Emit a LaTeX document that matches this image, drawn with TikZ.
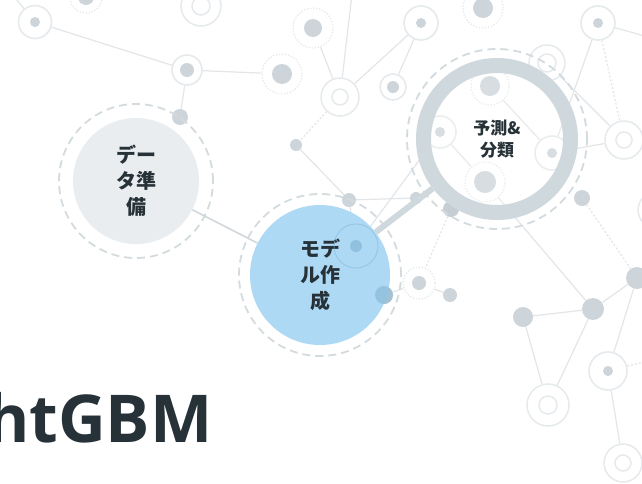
\documentclass[tikz,border=0pt]{standalone}
\usepackage{fontspec}
\setmainfont{Noto Sans}
\newfontfamily\jp{Noto Sans CJK JP}
\newfontfamily\titlefont{Open Sans}
\pgfdeclarelayer{bg}
\pgfsetlayers{bg,main}
\definecolor{lnc}{HTML}{E2E6E9}
\definecolor{rgc}{HTML}{E6EAEC}
\definecolor{dtc}{HTML}{CDD5DA}
\definecolor{dkc}{HTML}{C5CED4}
\definecolor{ringc}{HTML}{CFD8DC}
\definecolor{dashc}{HTML}{D3DBDF}
\definecolor{datafill}{HTML}{E9EDF0}
\definecolor{modelfill}{HTML}{AED9F5}
\definecolor{ovc}{HTML}{7FB1D0}
\definecolor{txt}{HTML}{263238}
\tikzset{
  edge/.style={draw=lnc, line width=1.2pt},
  dedge/.style={draw=lnc, line width=1.2pt, dash pattern=on 2pt off 2pt},
  ringdot/.style 2 args={circle, draw=rgc, line width=1.6pt, fill=white, inner sep=0pt, minimum size=#1,
    path picture={\fill[dtc] (path picture bounding box.center) circle (#2);}},
  hollow/.style 2 args={circle, draw=rgc, line width=1.5pt, fill=white, inner sep=0pt, minimum size=#1,
    path picture={\draw[rgc, line width=1.5pt] (path picture bounding box.center) circle (#2);}},
  dotring/.style 2 args={circle, draw=rgc, line width=1.3pt, dash pattern=on 1.3pt off 1.7pt, fill=white, inner sep=0pt, minimum size=#1,
    path picture={\fill[dtc] (path picture bounding box.center) circle (#2);}},
  bdot/.style={circle, fill=dtc, inner sep=0pt, minimum size=#1},
  dashring/.style={circle, draw=dashc, line width=1.8pt, dash pattern=on 8pt off 5pt, inner sep=0pt, minimum size=#1},
  jptext/.style 2 args={font=\jp\bfseries\fontsize{#1}{#2}\selectfont, text=txt, align=center},
  conn/.style={draw=ringc, line width=1.6pt},
}
\begin{document}
\begin{tikzpicture}[x=1pt,y=-1pt]
\useasboundingbox (0,0) rectangle (642,483);
\begin{pgfonlayer}{bg}
\fill[white] (0,0) rectangle (642,483);
\end{pgfonlayer}
% background network nodes
\node[ringdot={33}{5}] (b1) at (35,22) {};
\node[dotring={32}{8}] (b2) at (86,-3) {};
\node[hollow={40}{9}] (b3) at (201,6) {};
\node[ringdot={30}{7}] (b4) at (187,70) {};
\node[dotring={40}{10}] (b5) at (282,74) {};
\node[dotring={40}{9}] (b6) at (313,28) {};
\node[hollow={38}{8}] (b7) at (340,97) {};
\node[ringdot={34}{5}] (b8) at (421,23) {};
\node[ringdot={26}{6}] (b9) at (393,87) {};
\node[bdot=16] (b10) at (180,117) {};
\node[dotring={40}{10}] (b11) at (483,8) {};
\node[ringdot={34}{5}] (b12) at (598,23) {};
\node[hollow={36}{9}] (b13) at (547,63) {};
\node[dotring={38}{10}] (b14) at (490,86) {};
\node[ringdot={32}{5}] (b15) at (440,132) {};
\node[ringdot={34}{5}] (b16) at (552,153) {};
\node[dotring={40}{11}] (b17) at (485,182) {};
\node[hollow={38}{8}] (b18) at (624,140) {};
\node[bdot=16] (b19) at (582,198) {};
\node[bdot=12] (b20) at (296,145) {};
\node[bdot=14] (b21) at (349,200) {};
\node[bdot=12] (b22) at (416,198) {};
\node[ringdot={44}{6}] (b23) at (356,246) {};
\node[bdot=18] (b24) at (384,295) {};
\node[dotring={32}{7}] (b25) at (419,283) {};
\node[bdot=14] (b26) at (450,295) {};
\node[bdot=20] (b27) at (523,317) {};
\node[bdot=22] (b28) at (593,309) {};
\node[bdot=22] (b29) at (637,278) {};
\node[ringdot={38}{5}] (b30) at (608,371) {};
\node[hollow={42}{9}] (b31) at (548,405) {};
\node[hollow={38}{8}] (b32) at (623,463) {};
\node[hollow={36}{8}] (b33) at (656,210) {};
\node[bdot=16, fill=dkc] (b34) at (451,209) {};
\coordinate (c1) at (236,-6);
\coordinate (c2) at (352,-6);
\coordinate (c3) at (652,38);
\coordinate (c4) at (12,-6);
\coordinate (c5) at (652,360);
\begin{pgfonlayer}{bg}
\draw[edge] (b1) -- (b4);
\draw[edge] (b4) -- (b5);
\draw[edge] (b4) -- (b10);
\draw[edge] (b6) -- (b7);
\draw[edge] (b7) -- (b8);
\draw[edge] (b8) -- (b9);
\draw[edge] (b20) -- (b21);
\draw[edge] (b21) -- (b22);
\draw[edge] (b21) -- (b23);
\draw[edge] (b23) -- (b15);
\draw[edge] (b15) -- (b17);
\draw[edge] (b14) -- (b16);
\draw[edge] (b16) -- (b18);
\draw[edge] (b13) -- (b18);
\draw[edge] (b12) -- (b16);
\draw[edge] (b17) -- (b28);
\draw[edge] (b27) -- (b28);
\draw[edge] (b28) -- (b29);
\draw[edge] (b27) -- (b31);
\draw[edge] (b28) -- (b31);
\draw[edge] (b29) -- (b30);
\draw[edge] (b30) -- (b32);
\draw[edge] (b24) -- (b25);
\draw[edge] (b25) -- (b26);
\draw[edge] (b3) -- (c1);
\draw[edge] (b7) -- (c2);
\draw[edge] (b12) -- (c3);
\draw[edge] (b1) -- (c4);
\draw[dedge] (b7) -- (b20);
\draw[dedge] (b12) -- (b18);
\draw[dedge] (b19) -- (b29);
\draw[dedge] (b30) -- (c5);
\draw[dedge] (b34) -- (b25);
\end{pgfonlayer}
% main process circles
\node[dashring=154] (datar) at (136,181) {};
\node[dashring=162] (modelr) at (320,275) {};
\node[dashring=180] (predr) at (497,139) {};
\node[circle, fill=datafill, minimum size=126pt, inner sep=0pt, jptext={20}{26}] (data) at (136,181) {デー\\タ準\\備};
\node[circle, fill=modelfill, minimum size=140pt, inner sep=0pt, jptext={20}{26}] (model) at (320,275) {モデ\\ル作\\成};
\draw[conn] (data) -- (model);
% background nodes seen through the model circle
\node[circle, draw=ovc, line width=1pt, minimum size=44pt, inner sep=0pt, draw opacity=0.45] (o23) at (b23) {};
\node[circle, fill=ovc, minimum size=12pt, inner sep=0pt, fill opacity=0.6] (o23d) at (b23) {};
\node[circle, fill=ovc, minimum size=18pt, inner sep=0pt, fill opacity=0.55] (o24) at (b24) {};
% magnifier
\node[circle, draw=ringc, line width=15pt, fill=white, fill opacity=0.2, text opacity=1, minimum size=147pt, inner sep=0pt, jptext={17}{22}] (pred) at (497,139) {予測\&\\分類};
\draw[draw=ringc, line width=6pt] (pred) -- (model);
% title
\node[anchor=base west, inner sep=0pt, text=txt, font=\titlefont\bfseries\fontsize{66}{66}\selectfont] (title) at (-14,442) {htGBM};
\end{tikzpicture}
\end{document}
